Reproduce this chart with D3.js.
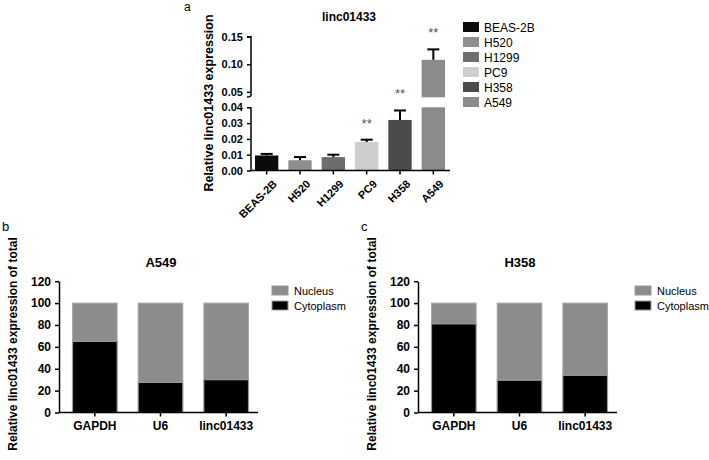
<!DOCTYPE html>
<html>
<head>
<meta charset="utf-8">
<script src="https://cdn.jsdelivr.net/npm/d3@7"></script>
<style>
  body { margin: 0; background: #fff; }
  svg { font-family: Arial, "Liberation Sans", sans-serif; }
  .axis path, .axis line { stroke: #000; stroke-width: 1.5px; }
  .axis text { font-weight: bold; fill: #000; }
</style>
</head>
<body>
<svg id="chart"></svg>
<script>
// panel a: linc01433 level per cell line
const cellLines = ["BEAS-2B", "H520", "H1299", "PC9", "H358", "A549"];
const expression = [0.0095, 0.0065, 0.0085, 0.018, 0.032, 0.108];
const expressionErr = [0.001, 0.002, 0.0015, 0.0015, 0.006, 0.019];
const significance = ["", "", "", "**", "**", "**"];
const lineColors = ["#0b0b0b", "#8f8f8f", "#6d6d6d", "#cdcdcd", "#4b4b4b", "#8b8b8b"];
const lowTicks = [0, 0.01, 0.02, 0.03, 0.04];
const highTicks = [0.05, 0.10, 0.15];

// panels b, c: nuclear / cytoplasmic fraction
const fractions = ["GAPDH", "U6", "linc01433"];
const a549Cytoplasm = [65, 27.5, 30];
const a549Nucleus = [35, 72.5, 70];
const h358Cytoplasm = [81, 29.5, 34];
const h358Nucleus = [19, 70.5, 66];
const fractionTicks = [0, 20, 40, 60, 80, 100, 120];
const compartments = ["Nucleus", "Cytoplasm"];
const compartmentColors = ["#8c8c8c", "#000000"];

const width = 709, height = 460;
const svg = d3.select("#chart").attr("width", width).attr("height", height);

// ---------- panel a ----------
const a = svg.append("g");

const x = d3.scaleBand().domain(cellLines).range([250, 450]).paddingInner(0.3).paddingOuter(0.15);
const yLow = d3.scaleLinear().domain([0, 0.04]).range([170.5, 107.3]);
const yHigh = d3.scaleLinear().domain([0.04, 0.15]).range([97.3, 36.7]);
const breakAt = 0.04;
const yOf = v => v <= breakAt ? yLow(v) : yHigh(v);

const rows = cellLines.map((c, i) => ({
  c, v: expression[i], e: expressionErr[i], s: significance[i], col: lineColors[i]
}));

// bars (split by the axis break)
rows.forEach(d => {
  const top = Math.min(d.v, breakAt);
  a.append("rect")
    .attr("x", x(d.c)).attr("width", x.bandwidth())
    .attr("y", yLow(top)).attr("height", yLow(0) - yLow(top))
    .attr("fill", d.col);
  if (d.v > breakAt) {
    a.append("rect")
      .attr("x", x(d.c)).attr("width", x.bandwidth())
      .attr("y", yHigh(d.v)).attr("height", yHigh(breakAt) - yHigh(d.v))
      .attr("fill", d.col);
  }
});

// error bars (upper only)
rows.forEach(d => {
  const cx = x(d.c) + x.bandwidth() / 2;
  const y0 = yOf(d.v), y1 = yOf(d.v + d.e);
  a.append("line").attr("x1", cx).attr("x2", cx).attr("y1", y0).attr("y2", y1)
    .attr("stroke", "#000").attr("stroke-width", 2);
  a.append("line").attr("x1", cx - 6).attr("x2", cx + 6).attr("y1", y1).attr("y2", y1)
    .attr("stroke", "#000").attr("stroke-width", 2);
  if (d.s) {
    a.append("text").attr("x", cx).attr("y", y1 - 12)
      .attr("text-anchor", "middle").attr("font-size", 13).attr("fill", "#555")
      .text(d.s);
  }
});

// broken y axis
const axLow = a.append("g").attr("class", "axis").attr("transform", "translate(251,0)")
  .call(d3.axisLeft(yLow).tickValues(lowTicks).tickFormat(d3.format(".2f")).tickSize(4).tickSizeOuter(0));
axLow.select(".domain").remove();
const axHigh = a.append("g").attr("class", "axis").attr("transform", "translate(251,0)")
  .call(d3.axisLeft(yHigh).tickValues(highTicks).tickFormat(d3.format(".2f")).tickSize(4).tickSizeOuter(0));
axHigh.select(".domain").remove();
a.selectAll(".axis text").attr("font-size", 11).attr("dx", "-1");

a.append("path")
  .attr("d", `M247,${yHigh(0.15)}H251V${yHigh(0.044)}q0,2 -4,2`)
  .attr("fill", "none").attr("stroke", "#000").attr("stroke-width", 1.5);
a.append("path")
  .attr("d", `M251,${yLow(0)}V${yLow(0.04)}`)
  .attr("fill", "none").attr("stroke", "#000").attr("stroke-width", 1.5);

// x axis
const axX = a.append("g").attr("class", "axis").attr("transform", `translate(0,${yLow(0)})`)
  .call(d3.axisBottom(x).tickSize(4).tickSizeOuter(0));
axX.select(".domain").attr("d", `M251,0H450`);
axX.selectAll("text")
  .attr("font-size", 11)
  .attr("text-anchor", "end")
  .attr("transform", "translate(3,3) rotate(-45)")
  .attr("dy", "0.6em").attr("dx", "-0.2em");

a.append("text").attr("transform", "translate(213,103) rotate(-90)")
  .attr("text-anchor", "middle").attr("font-size", 12.5).attr("font-weight", "bold")
  .text("Relative linc01433 expression");
a.append("text").attr("x", 349).attr("y", 21).attr("text-anchor", "middle")
  .attr("font-size", 12).attr("font-weight", "bold").text("linc01433");
a.append("text").attr("x", 184).attr("y", 11).attr("font-size", 12).text("a");

// legend a
const legA = a.append("g").attr("transform", "translate(463,22)");
cellLines.forEach((c, i) => {
  legA.append("rect").attr("x", 0).attr("y", i * 15).attr("width", 16).attr("height", 10)
    .attr("fill", lineColors[i]);
  legA.append("text").attr("x", 21).attr("y", i * 15 + 9.5).attr("font-size", 12).text(c);
});

// ---------- panels b and c ----------
function fractionPanel(dx, letter, title, cyto, nuc, legendX) {
  const g = svg.append("g").attr("transform", `translate(${dx},0)`);
  const xb = d3.scaleBand().domain(fractions).range([62, 259]).paddingInner(0.32).paddingOuter(0.16);
  const yb = d3.scaleLinear().domain([0, 120]).range([412.5, 281.2]);

  fractions.forEach((f, i) => {
    g.append("rect")
      .attr("x", xb(f)).attr("width", xb.bandwidth())
      .attr("y", yb(cyto[i] + nuc[i])).attr("height", yb(cyto[i]) - yb(cyto[i] + nuc[i]))
      .attr("fill", compartmentColors[0]).attr("stroke", "#aaa").attr("stroke-width", 1);
    g.append("rect")
      .attr("x", xb(f)).attr("width", xb.bandwidth())
      .attr("y", yb(cyto[i])).attr("height", yb(0) - yb(cyto[i]))
      .attr("fill", compartmentColors[1]).attr("stroke", "#999").attr("stroke-width", 1.2);
  });

  const ay = g.append("g").attr("class", "axis").attr("transform", "translate(59,0)")
    .call(d3.axisLeft(yb).tickValues(fractionTicks).tickSize(4).tickSizeOuter(0));
  ay.selectAll("text").attr("font-size", 12).attr("dx", "-1");

  const ax = g.append("g").attr("class", "axis").attr("transform", `translate(0,${yb(0)})`)
    .call(d3.axisBottom(xb).tickSize(4).tickSizeOuter(0));
  ax.select(".domain").attr("d", "M59,0H258");
  ax.selectAll("text").attr("font-size", 12).attr("dy", "0.9em");

  g.append("text").attr("transform", "translate(17,344) rotate(-90)")
    .attr("text-anchor", "middle").attr("font-size", 12).attr("font-weight", "bold")
    .text("Relative linc01433 expression of total");
  g.append("text").attr("x", 161).attr("y", 267).attr("text-anchor", "middle")
    .attr("font-size", 13).attr("font-weight", "bold").text(title);
  g.append("text").attr("x", 2).attr("y", 231).attr("font-size", 13).text(letter);

  const leg = g.append("g").attr("transform", `translate(${legendX},286)`);
  compartments.forEach((c, i) => {
    leg.append("rect").attr("x", 0).attr("y", i * 15).attr("width", 16).attr("height", 9)
      .attr("fill", compartmentColors[i]).attr("stroke", "#999").attr("stroke-width", 1);
    leg.append("text").attr("x", 22).attr("y", i * 15 + 9).attr("font-size", 11).text(c);
  });
}

fractionPanel(0, "b", "A549", a549Cytoplasm, a549Nucleus, 272);
fractionPanel(359, "c", "H358", h358Cytoplasm, h358Nucleus, 276);
</script>
</body>
</html>
